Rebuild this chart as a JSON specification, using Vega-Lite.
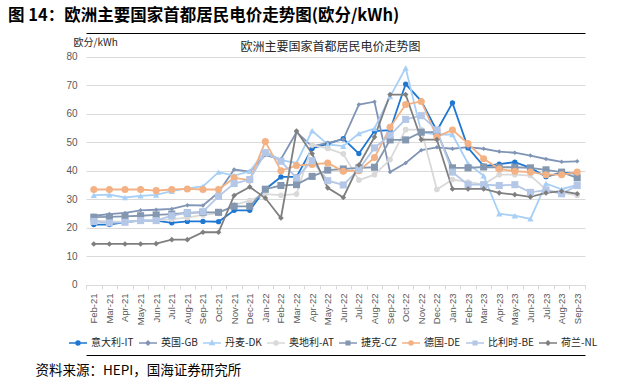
{
  "$schema": "https://vega.github.io/schema/vega-lite/v6.json",
  "width": 499,
  "height": 325,
  "autosize": {"type": "none"},
  "padding": {"left": 86, "top": 31, "right": 39, "bottom": 27},
  "background": "white",
  "title": {"text": "图 14：欧洲主要国家首都居民电价走势图(欧分/kWh)", "anchor": "start", "frame": "group", "dx": -78, "dy": 17, "fontSize": 16.5, "fontWeight": "bold", "font": "Noto Sans CJK SC", "color": "#000000", "offset": 8, "baseline": "bottom"},
  "data": {"values": [
    {"m": "Feb-21", "意大利-IT": 21.1, "英国-GB": 24.2, "丹麦-DK": 31.4, "奥地利-AT": 22.5, "捷克-CZ": 23.7, "德国-DE": 33.4, "比利时-BE": 22.2, "荷兰-NL": 14.3},
    {"m": "Mar-21", "意大利-IT": 21.1, "英国-GB": 24.8, "丹麦-DK": 31.6, "奥地利-AT": 22.2, "捷克-CZ": 23.8, "德国-DE": 33.4, "比利时-BE": 21.7, "荷兰-NL": 14.3},
    {"m": "Apr-21", "意大利-IT": 22.0, "英国-GB": 25.2, "丹麦-DK": 30.6, "奥地利-AT": 22.0, "捷克-CZ": 24.0, "德国-DE": 33.4, "比利时-BE": 21.9, "荷兰-NL": 14.3},
    {"m": "May-21", "意大利-IT": 22.5, "英国-GB": 26.1, "丹麦-DK": 31.2, "奥地利-AT": 22.5, "捷克-CZ": 24.2, "德国-DE": 33.4, "比利时-BE": 22.5, "荷兰-NL": 14.3},
    {"m": "Jun-21", "意大利-IT": 22.5, "英国-GB": 26.3, "丹麦-DK": 31.5, "奥地利-AT": 22.5, "捷克-CZ": 24.5, "德国-DE": 33.0, "比利时-BE": 22.5, "荷兰-NL": 14.4},
    {"m": "Jul-21", "意大利-IT": 21.7, "英国-GB": 26.6, "丹麦-DK": 32.8, "奥地利-AT": 23.0, "捷克-CZ": 24.8, "德国-DE": 33.4, "比利时-BE": 24.2, "荷兰-NL": 15.8},
    {"m": "Aug-21", "意大利-IT": 22.2, "英国-GB": 27.9, "丹麦-DK": 33.8, "奥地利-AT": 23.5, "捷克-CZ": 25.2, "德国-DE": 33.6, "比利时-BE": 25.2, "荷兰-NL": 15.8},
    {"m": "Sep-21", "意大利-IT": 22.2, "英国-GB": 27.8, "丹麦-DK": 34.5, "奥地利-AT": 24.5, "捷克-CZ": 25.4, "德国-DE": 33.4, "比利时-BE": 25.6, "荷兰-NL": 18.4},
    {"m": "Oct-21", "意大利-IT": 22.1, "英国-GB": 32.4, "丹麦-DK": 39.5, "奥地利-AT": 25.0, "捷克-CZ": 25.4, "德国-DE": 33.4, "比利时-BE": 31.0, "荷兰-NL": 18.4},
    {"m": "Nov-21", "意大利-IT": 26.1, "英国-GB": 40.4, "丹麦-DK": 38.3, "奥地利-AT": 28.0, "捷克-CZ": 27.5, "德国-DE": 37.5, "比利时-BE": 35.5, "荷兰-NL": 31.3},
    {"m": "Dec-21", "意大利-IT": 26.1, "英国-GB": 39.7, "丹麦-DK": 39.8, "奥地利-AT": 29.5, "捷克-CZ": 27.5, "德国-DE": 36.7, "比利时-BE": 36.9, "荷兰-NL": 34.3},
    {"m": "Jan-22", "意大利-IT": 33.5, "英国-GB": 45.5, "丹麦-DK": 46.8, "奥地利-AT": 31.8, "捷克-CZ": 33.5, "德国-DE": 50.2, "比利时-BE": 46.3, "荷兰-NL": 30.4},
    {"m": "Feb-22", "意大利-IT": 37.8, "英国-GB": 44.0, "丹麦-DK": 43.7, "奥地利-AT": 31.4, "捷克-CZ": 34.8, "德国-DE": 40.0, "比利时-BE": 43.3, "荷兰-NL": 23.4},
    {"m": "Mar-22", "意大利-IT": 37.8, "英国-GB": 53.5, "丹麦-DK": 42.7, "奥地利-AT": 31.8, "捷克-CZ": 35.1, "德国-DE": 41.8, "比利时-BE": 37.5, "荷兰-NL": 53.9},
    {"m": "Apr-22", "意大利-IT": 47.8, "英国-GB": 48.5, "丹麦-DK": 54.0, "奥地利-AT": 49.0, "捷克-CZ": 38.0, "德国-DE": 42.2, "比利时-BE": 43.5, "荷兰-NL": 46.0},
    {"m": "May-22", "意大利-IT": 49.4, "英国-GB": 49.8, "丹麦-DK": 49.2, "奥地利-AT": 47.8, "捷克-CZ": 40.2, "德国-DE": 42.7, "比利时-BE": 36.5, "荷兰-NL": 34.0},
    {"m": "Jun-22", "意大利-IT": 51.2, "英国-GB": 51.0, "丹麦-DK": 48.6, "奥地利-AT": 45.9, "捷克-CZ": 40.6, "德国-DE": 39.8, "比利时-BE": 35.0, "荷兰-NL": 30.6},
    {"m": "Jul-22", "意大利-IT": 46.0, "英国-GB": 63.2, "丹麦-DK": 53.0, "奥地利-AT": 36.7, "捷克-CZ": 41.0, "德国-DE": 40.0, "比利时-BE": 40.5, "荷兰-NL": 42.0},
    {"m": "Aug-22", "意大利-IT": 53.9, "英国-GB": 64.2, "丹麦-DK": 54.8, "奥地利-AT": 38.6, "捷克-CZ": 41.2, "德国-DE": 44.6, "比利时-BE": 48.0, "荷兰-NL": 51.8},
    {"m": "Sep-22", "意大利-IT": 54.2, "英国-GB": 39.5, "丹麦-DK": 66.0, "奥地利-AT": 43.9, "捷克-CZ": 50.8, "德国-DE": 55.2, "比利时-BE": 52.5, "荷兰-NL": 66.7},
    {"m": "Oct-22", "意大利-IT": 70.4, "英国-GB": 42.7, "丹麦-DK": 76.0, "奥地利-AT": 54.4, "捷克-CZ": 50.8, "德国-DE": 63.2, "比利时-BE": 58.0, "荷兰-NL": 66.7},
    {"m": "Nov-22", "意大利-IT": 64.4, "英国-GB": 47.2, "丹麦-DK": 53.5, "奥地利-AT": 54.4, "捷克-CZ": 53.5, "德国-DE": 64.3, "比利时-BE": 59.3, "荷兰-NL": 50.9},
    {"m": "Dec-22", "意大利-IT": 54.0, "英国-GB": 48.2, "丹麦-DK": 52.7, "奥地利-AT": 33.4, "捷克-CZ": 53.5, "德国-DE": 51.9, "比利时-BE": 54.3, "荷兰-NL": 50.9},
    {"m": "Jan-23", "意大利-IT": 63.8, "英国-GB": 47.7, "丹麦-DK": 52.7, "奥地利-AT": 36.9, "捷克-CZ": 41.0, "德国-DE": 54.3, "比利时-BE": 39.5, "荷兰-NL": 33.6},
    {"m": "Feb-23", "意大利-IT": 48.0, "英国-GB": 48.3, "丹麦-DK": 42.5, "奥地利-AT": 36.0, "捷克-CZ": 41.0, "德国-DE": 49.5, "比利时-BE": 35.1, "荷兰-NL": 33.6},
    {"m": "Mar-23", "意大利-IT": 41.6, "英国-GB": 47.7, "丹麦-DK": 38.2, "奥地利-AT": 35.2, "捷克-CZ": 41.3, "德国-DE": 44.2, "比利时-BE": 35.1, "荷兰-NL": 33.6},
    {"m": "Apr-23", "意大利-IT": 42.3, "英国-GB": 46.7, "丹麦-DK": 24.9, "奥地利-AT": 38.6, "捷克-CZ": 41.2, "德国-DE": 40.6, "比利时-BE": 34.8, "荷兰-NL": 32.2},
    {"m": "May-23", "意大利-IT": 43.0, "英国-GB": 46.3, "丹麦-DK": 24.2, "奥地利-AT": 38.6, "捷克-CZ": 41.2, "德国-DE": 39.8, "比利时-BE": 35.1, "荷兰-NL": 31.6},
    {"m": "Jun-23", "意大利-IT": 41.0, "英国-GB": 45.3, "丹麦-DK": 23.1, "奥地利-AT": 38.3, "捷克-CZ": 41.0, "德国-DE": 39.5, "比利时-BE": 32.4, "荷兰-NL": 30.8},
    {"m": "Jul-23", "意大利-IT": 37.9, "英国-GB": 44.1, "丹麦-DK": 35.5, "奥地利-AT": 33.4, "捷克-CZ": 40.3, "德国-DE": 38.6, "比利时-BE": 33.2, "荷兰-NL": 32.2},
    {"m": "Aug-23", "意大利-IT": 39.3, "英国-GB": 43.1, "丹麦-DK": 33.5, "奥地利-AT": 32.2, "捷克-CZ": 39.5, "德国-DE": 38.6, "比利时-BE": 31.9, "荷兰-NL": 32.8},
    {"m": "Sep-23", "意大利-IT": 39.0, "英国-GB": 43.3, "丹麦-DK": 35.0, "奥地利-AT": 31.4, "捷克-CZ": 37.5, "德国-DE": 39.5, "比利时-BE": 34.8, "荷兰-NL": 31.9}
  ]},
  "transform": [
    {"fold": ["意大利-IT", "英国-GB", "丹麦-DK", "奥地利-AT", "捷克-CZ", "德国-DE", "比利时-BE", "荷兰-NL"], "as": ["c", "v"]}
  ],
  "encoding": {
    "x": {
      "field": "m", "type": "ordinal",
      "scale": {"type": "band", "paddingInner": 0, "paddingOuter": 0, "domain": ["Feb-21","Mar-21","Apr-21","May-21","Jun-21","Jul-21","Aug-21","Sep-21","Oct-21","Nov-21","Dec-21","Jan-22","Feb-22","Mar-22","Apr-22","May-22","Jun-22","Jul-22","Aug-22","Sep-22","Oct-22","Nov-22","Dec-22","Jan-23","Feb-23","Mar-23","Apr-23","May-23","Jun-23","Jul-23","Aug-23","Sep-23"]},
      "axis": null
    },
    "y": {
      "field": "v", "type": "quantitative",
      "scale": {"domain": [-25, 89], "nice": false, "zero": false},
      "axis": {
        "values": [-24.6, 0, 10, 20, 30, 40, 50, 60, 70, 80, 88.4],
        "grid": true,
        "gridColor": {"condition": {"test": "datum.value > 85 || datum.value < -10", "value": "#000000"}, "value": "#d9d9d9"},
        "domain": false, "ticks": false,
        "labelExpr": "datum.value > 85 || datum.value < -10 ? '' : datum.label",
        "labelPadding": 9, "labelFontSize": 10, "labelColor": "#595959", "labelFont": "Liberation Sans",
        "title": "欧分/kWh", "titleAngle": 0, "titleX": -13, "titleY": 11, "titleAlign": "left", "titleBaseline": "middle",
        "titleFontSize": 10, "titleFontWeight": "normal", "titleColor": "#262626", "titleFont": "Noto Sans CJK SC"
      }
    },
    "color": {
      "field": "c", "type": "nominal",
      "scale": {
        "domain": ["意大利-IT", "英国-GB", "丹麦-DK", "奥地利-AT", "捷克-CZ", "德国-DE", "比利时-BE", "荷兰-NL"],
        "range": ["#1f77d2", "#8095b6", "#a8cff6", "#d9d9d9", "#8497b0", "#f4b183", "#b4c7e7", "#7f7f7f"]
      },
      "legend": null
    }
  },
  "layer": [
    {
      "mark": {"type": "line", "strokeWidth": 1.8},
      "encoding": {
        "x": {
          "field": "m", "type": "ordinal",
          "scale": {"type": "band", "paddingInner": 0, "paddingOuter": 0, "domain": ["Feb-21","Mar-21","Apr-21","May-21","Jun-21","Jul-21","Aug-21","Sep-21","Oct-21","Nov-21","Dec-21","Jan-22","Feb-22","Mar-22","Apr-22","May-22","Jun-22","Jul-22","Aug-22","Sep-22","Oct-22","Nov-22","Dec-22","Jan-23","Feb-23","Mar-23","Apr-23","May-23","Jun-23","Jul-23","Aug-23","Sep-23"]},
          "axis": {
            "orient": "bottom", "offset": -71, "labelAngle": -90, "labelFontSize": 9.5, "labelColor": "#595959", "labelFont": "Liberation Sans",
            "labelPadding": 4, "tickBand": "extent", "tickSize": 4, "tickColor": "#d9d9d9", "domainColor": "#d9d9d9", "grid": false,
            "title": "资料来源：HEPI，国海证券研究所", "titleX": -51, "titleY": 85, "titleAlign": "left", "titleAnchor": "start",
            "titleBaseline": "middle", "titleFontSize": 13.5, "titleFontWeight": "normal", "titleColor": "#000000", "titleFont": "Noto Sans CJK SC"
          }
        },
        "color": {
          "field": "c", "type": "nominal",
          "scale": {
            "domain": ["意大利-IT", "英国-GB", "丹麦-DK", "奥地利-AT", "捷克-CZ", "德国-DE", "比利时-BE", "荷兰-NL"],
            "range": ["#1f77d2", "#8095b6", "#a8cff6", "#d9d9d9", "#8497b0", "#f4b183", "#b4c7e7", "#7f7f7f"]
          },
          "legend": {
            "orient": "none", "legendX": -18, "legendY": 302, "direction": "horizontal", "title": null,
            "symbolType": "M-1,0H1M-0.22,0A0.22,0.22 0 1,0 0.22,0A0.22,0.22 0 1,0 -0.22,0Z",
            "symbolSize": 324, "symbolStrokeWidth": 1.5, "labelFontSize": 10, "labelFont": "Noto Sans CJK SC",
            "labelColor": "#262626", "labelOffset": 3, "columnPadding": 2,
            "encode": {
              "symbols": {
                "update": {
                  "shape": {"signal": "indexof(['意大利-IT','奥地利-AT','德国-DE'], datum.value) >= 0 ? 'M-1,0H1M-0.22,0A0.22,0.22 0 1,0 0.22,0A0.22,0.22 0 1,0 -0.22,0Z' : datum.value === '丹麦-DK' ? 'M-1,0H1M0,-0.25L0.24,0.17L-0.24,0.17Z' : indexof(['捷克-CZ','比利时-BE'], datum.value) >= 0 ? 'M-1,0H1M-0.2,-0.2H0.2V0.2H-0.2Z' : 'M-1,0H1M0,-0.22L0.22,0L0,0.22L-0.22,0Z'"},
                  "fill": {"scale": "color", "field": "value"},
                  "stroke": {"scale": "color", "field": "value"},
                  "strokeWidth": {"value": 1.5}
                }
              }
            }
          }
        }
      }
    },
    {
      "transform": [{"filter": "datum.c === '意大利-IT'"}],
      "mark": {"type": "point", "filled": true, "opacity": 1, "shape": "circle", "size": 28},
      "encoding": {
        "x": {
          "field": "m", "type": "ordinal",
          "scale": {"type": "band", "paddingInner": 0, "paddingOuter": 0, "domain": ["Feb-21","Mar-21","Apr-21","May-21","Jun-21","Jul-21","Aug-21","Sep-21","Oct-21","Nov-21","Dec-21","Jan-22","Feb-22","Mar-22","Apr-22","May-22","Jun-22","Jul-22","Aug-22","Sep-22","Oct-22","Nov-22","Dec-22","Jan-23","Feb-23","Mar-23","Apr-23","May-23","Jun-23","Jul-23","Aug-23","Sep-23"]},
          "axis": {
            "orient": "top", "labels": false, "ticks": false, "grid": false, "domain": false,
            "title": "欧洲主要国家首都居民电价走势图", "titleX": 244, "titleY": 15, "titleAlign": "center", "titleAnchor": "middle",
            "titleBaseline": "middle", "titleFontSize": 12, "titleFontWeight": "normal", "titleColor": "#262626", "titleFont": "Noto Sans CJK SC"
          }
        }
      }
    },
    {"transform": [{"filter": "datum.c === '英国-GB'"}], "mark": {"type": "point", "filled": true, "opacity": 1, "shape": "diamond", "size": 20}},
    {"transform": [{"filter": "datum.c === '丹麦-DK'"}], "mark": {"type": "point", "filled": true, "opacity": 1, "shape": "triangle-up", "size": 40}},
    {"transform": [{"filter": "datum.c === '奥地利-AT'"}], "mark": {"type": "point", "filled": true, "opacity": 1, "shape": "circle", "size": 32}},
    {"transform": [{"filter": "datum.c === '捷克-CZ'"}], "mark": {"type": "point", "filled": true, "opacity": 1, "shape": "square", "size": 50}},
    {"transform": [{"filter": "datum.c === '德国-DE'"}], "mark": {"type": "point", "filled": true, "opacity": 1, "shape": "circle", "size": 50}},
    {"transform": [{"filter": "datum.c === '比利时-BE'"}], "mark": {"type": "point", "filled": true, "opacity": 1, "shape": "square", "size": 50}},
    {"transform": [{"filter": "datum.c === '荷兰-NL'"}], "mark": {"type": "point", "filled": true, "opacity": 1, "shape": "diamond", "size": 32}}
  ],
  "resolve": {"scale": {"x": "independent"}, "axis": {"x": "independent"}},
  "config": {"view": {"stroke": null}}
}
